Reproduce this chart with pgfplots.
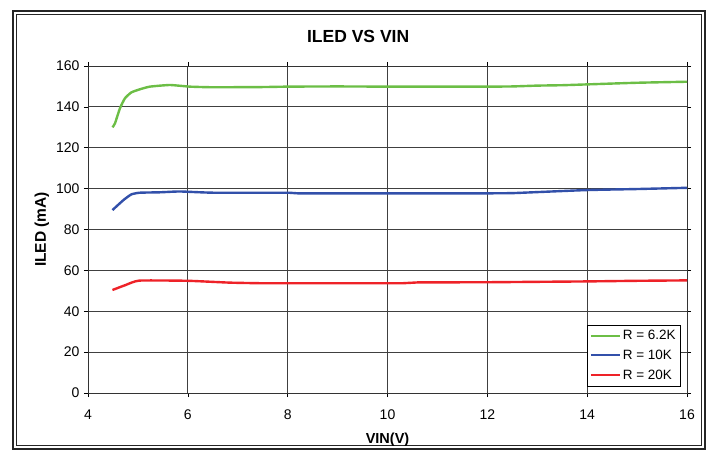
\documentclass[border=0pt]{standalone}
\usepackage{pgfplots}
\pgfplotsset{compat=1.18}
\usepackage{fontspec}
\setmainfont{Liberation Sans}
\definecolor{cgreen}{RGB}{108,190,70}
\definecolor{cblue}{RGB}{50,80,170}
\definecolor{cred}{RGB}{238,34,40}
\begin{document}
\begin{tikzpicture}[x=1pt,y=1pt]
\useasboundingbox (-88,-59) rectangle (623,393);
\draw[line width=2.6pt, black!85] (-75,382) rectangle (617,-56);
\draw[line width=1pt, black!85] (-71,378) rectangle (613,-52);
\begin{axis}[
  at={(0,0)}, anchor=origin,
  scale only axis, width=599pt, height=327pt,
  xmin=4, xmax=16, ymin=0, ymax=160,
  xtick={4,6,...,16}, ytick={0,20,...,160},
  grid=major,
  major grid style={black!75, line width=0.8pt},
  axis line style={black!80, line width=0.8pt},
  tick style={black, line width=0.6pt},
  tick align=outside, major tick length=4pt,
  /pgf/number format/assume math mode=true,
  tick label style={font=\fontsize{14}{16}\selectfont},
  xticklabel style={anchor=north, yshift=-9pt},
  yticklabel style={xshift=-1pt},
  title={\textbf{ILED VS VIN}},
  title style={at={(rel axis cs:0.451,1.071)}, anchor=center, font=\fontsize{17.5}{20}\selectfont},
  xlabel={\textbf{VIN(V)}},
  ylabel={\textbf{ILED (mA)}},
  xlabel style={at={(axis description cs:0.5,-0.142)}, anchor=center, font=\fontsize{14.5}{16}\selectfont},
  ylabel style={at={(axis description cs:-0.077,0.5)}, anchor=center, rotate=0, font=\fontsize{15.5}{17}\selectfont},
  legend style={at={(rel axis cs:0.99,0.021)}, anchor=south east, draw=black, line width=0.6pt,
    font=\fontsize{13.5}{16}\selectfont, row sep=5pt, inner sep=3pt},
  legend cell align=left,
  legend image code/.code={\draw[#1, line width=2pt] (0pt,0pt) -- (29pt,0pt);},
  every axis plot/.append style={line width=2.4pt, line join=round},
]
\addplot[cgreen, smooth, tension=0.3] coordinates {
(4.49,130) (4.54,131.9) (4.64,139.3) (4.74,144.2) (4.87,147.1) (5.04,148.6) (5.24,149.9)
(5.64,150.7) (6.04,149.9) (6.5,149.6) (7.5,149.7) (8.0,149.9) (9,150) (10,149.9) (11,149.9)
(12,149.9) (12.5,150) (13,150.4) (13.5,150.6) (14,151) (15,151.8) (16,152.3)};
\addlegendentry{R = 6.2K}
\addplot[cblue, smooth, tension=0.3] coordinates {
(4.49,89.5) (4.71,94.4) (4.87,97.2) (5.04,98) (5.44,98.2) (5.84,98.6) (6.51,98)
(7.98,98) (8.2,97.7) (9,97.7) (10,97.7) (11,97.7) (12,97.7) (12.5,97.8) (13,98.3)
(14,99.3) (15,99.8) (16,100.4)};
\addlegendentry{R = 10K}
\addplot[cred, smooth, tension=0.3] coordinates {
(4.49,50.4) (4.75,52.8) (5.03,55) (6,54.9) (6.84,54) (7.5,53.7) (8,53.7) (9,53.7)
(10.3,53.7) (10.6,54.1) (12,54.2) (13,54.4) (14,54.6) (15,54.9) (16,55.1)};
\addlegendentry{R = 20K}
\end{axis}
\end{tikzpicture}
\end{document}
